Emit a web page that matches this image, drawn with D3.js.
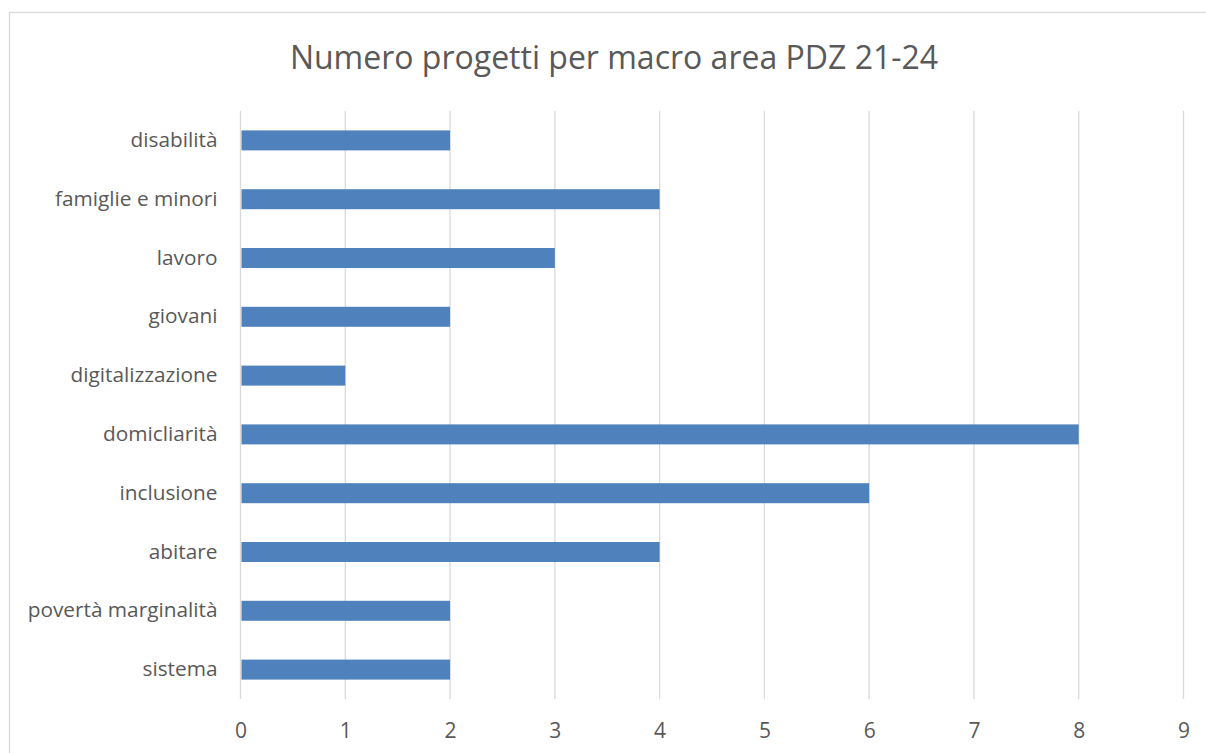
<!DOCTYPE html>
<html>
<head>
<meta charset="utf-8">
<script src="https://cdn.jsdelivr.net/npm/d3@7"></script>
<style>
    body { margin: 0; background: #fff; }
    text { font-family: "Open Sans", sans-serif; fill: #595959; }
</style>
</head>
<body>
<div id="chart"></div>
<script>
// categories from top to bottom, as shown
var categories = ["disabilità", "famiglie e minori", "lavoro", "giovani", "digitalizzazione",
    "domicliarità", "inclusione", "abitare", "povertà marginalità", "sistema"];
var progetti = [2, 4, 3, 2, 1, 8, 6, 4, 2, 2];
var xTicks = [0, 1, 2, 3, 4, 5, 6, 7, 8, 9];
var title = "Numero progetti per macro area PDZ 21-24";

var data = categories.map(function (c, i) {
    return {area: c, value: progetti[i]};
});

var width = 1206, height = 753;

var svg = d3.select("#chart").append("svg")
    .attr("width", width)
    .attr("height", height);

// outer chart frame (runs off the right and bottom of the picture)
svg.append("rect")
    .attr("x", 9.5)
    .attr("y", 12.5)
    .attr("width", 1220)
    .attr("height", 760)
    .attr("fill", "#fff")
    .attr("stroke", "#d9d9d9")
    .attr("stroke-width", 1.3);

var x = d3.scaleLinear()
    .domain([0, 9])
    .range([240.5, 1183.5]);

var y = d3.scaleBand()
    .domain(categories)
    .range([111, 699])
    .paddingInner(0.66)
    .paddingOuter(0.33);

// vertical gridlines
svg.selectAll(".grid")
    .data(xTicks)
    .enter().append("line")
    .attr("class", "grid")
    .attr("x1", function (d) { return x(d); })
    .attr("x2", function (d) { return x(d); })
    .attr("y1", 111)
    .attr("y2", 699)
    .attr("stroke", "#d9d9d9")
    .attr("stroke-width", 1.3);

svg.selectAll(".bar")
    .data(data)
    .enter().append("rect")
    .attr("class", "bar")
    .attr("x", x(0) + 1)
    .attr("y", function (d) { return y(d.area); })
    .attr("width", function (d) { return x(d.value) - x(0) - 1; })
    .attr("height", y.bandwidth())
    .attr("fill", "#4f81bd");

// x axis tick labels
var xAxis = d3.axisBottom(x).tickValues(xTicks).tickSize(0).tickPadding(0);
var gx = svg.append("g")
    .attr("transform", "translate(0," + 723 + ")")
    .call(xAxis);
gx.select(".domain").remove();
gx.selectAll("text")
    .attr("font-size", 21)
    .attr("font-family", "Open Sans")
    .attr("fill", "#595959");

// category labels
var yAxis = d3.axisLeft(y).tickSize(0).tickPadding(23);
var gy = svg.append("g")
    .attr("transform", "translate(" + x(0) + ",0)")
    .call(yAxis);
gy.select(".domain").remove();
gy.selectAll("text")
    .attr("font-size", 20.8)
    .attr("font-family", "Open Sans")
    .attr("fill", "#595959");

// chart title
svg.append("text")
    .attr("x", 614)
    .attr("y", 69)
    .attr("text-anchor", "middle")
    .attr("font-size", 32)
    .text(title);
</script>
</body>
</html>
